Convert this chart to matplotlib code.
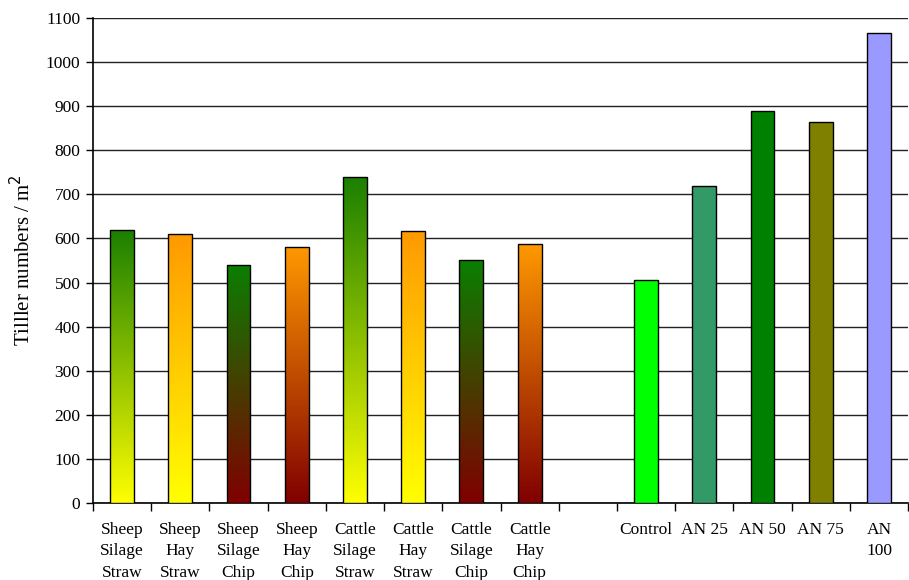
import numpy as np
import matplotlib
matplotlib.use('Agg')
import matplotlib.pyplot as plt
from matplotlib.colors import LinearSegmentedColormap

plt.rcParams['font.family'] = ['Liberation Serif', 'DejaVu Serif']

# 처리구별 분얼수 자료
labels = ['Sheep\nSilage\nStraw', 'Sheep\nHay\nStraw', 'Sheep\nSilage\nChip', 'Sheep\nHay\nChip',
          'Cattle\nSilage\nStraw', 'Cattle\nHay\nStraw', 'Cattle\nSilage\nChip', 'Cattle\nHay\nChip',
          '', 'Control', 'AN 25', 'AN 50', 'AN 75', 'AN\n100']
values = [620, 610, 540, 581, 740, 617, 551, 588, np.nan, 506, 720, 890, 863, 1066]

# 그라데이션 색 (위쪽, 아래쪽) - 단색 막대는 None
top_colors = ['#1a7f00', '#ff9900', '#0a7f00', '#ff9900',
              '#1a7f00', '#ff9900', '#0a7f00', '#ff9900',
              None, None, None, None, None, None]
bottom_colors = ['#ffff00', '#ffff00', '#800000', '#800000',
                 '#ffff00', '#ffff00', '#800000', '#800000',
                 None, None, None, None, None, None]
solid_colors = [None] * 9 + ['#00ff00', '#339966', '#008000', '#808000', '#9999ff']

fig = plt.figure(figsize=(9.09, 5.80), dpi=100)
ax = fig.add_axes([0.1023, 0.1328, 0.8967, 0.8362])

x = np.arange(len(labels))
width = 0.41
for i, v in enumerate(values):
    if np.isnan(v):
        continue
    if solid_colors[i] is not None:
        ax.bar(x[i], v, width, color=solid_colors[i], edgecolor='black', linewidth=1, zorder=3)
    else:
        bar = ax.bar(x[i], v, width, facecolor='none', edgecolor='black', linewidth=1, zorder=4)[0]
        cmap = LinearSegmentedColormap.from_list('g', [bottom_colors[i], top_colors[i]])
        grad = np.linspace(1, 0, 256).reshape(-1, 1)
        im = ax.imshow(grad, cmap=cmap, aspect='auto', zorder=3,
                       extent=[x[i] - width / 2, x[i] + width / 2, 0, v])
        im.set_clip_path(bar)

ax.set_xlim(-0.5, len(labels) - 0.5)
ax.set_ylim(0, 1100)
ax.set_yticks(np.arange(0, 1101, 100))
ax.yaxis.grid(True, color='#222222', linewidth=1)
ax.set_axisbelow(True)

ax.set_xticks(x)
ax.set_xticklabels(labels, fontsize=12.5, linespacing=1.42)
ax.set_xticks(np.arange(-0.5, len(labels)), minor=True)
ax.tick_params(axis='x', which='major', length=0, pad=14)
ax.tick_params(axis='x', which='minor', length=6, width=1)
ax.tick_params(axis='y', length=5, width=1, labelsize=12.5, pad=4)

for s in ['top', 'right']:
    ax.spines[s].set_visible(False)
ax.spines['left'].set_linewidth(1.2)
ax.spines['bottom'].set_linewidth(1.2)

ax.set_ylabel('Tilller numbers / m$^2$', fontsize=15, labelpad=8)

fig.savefig('out.png', dpi=100)
